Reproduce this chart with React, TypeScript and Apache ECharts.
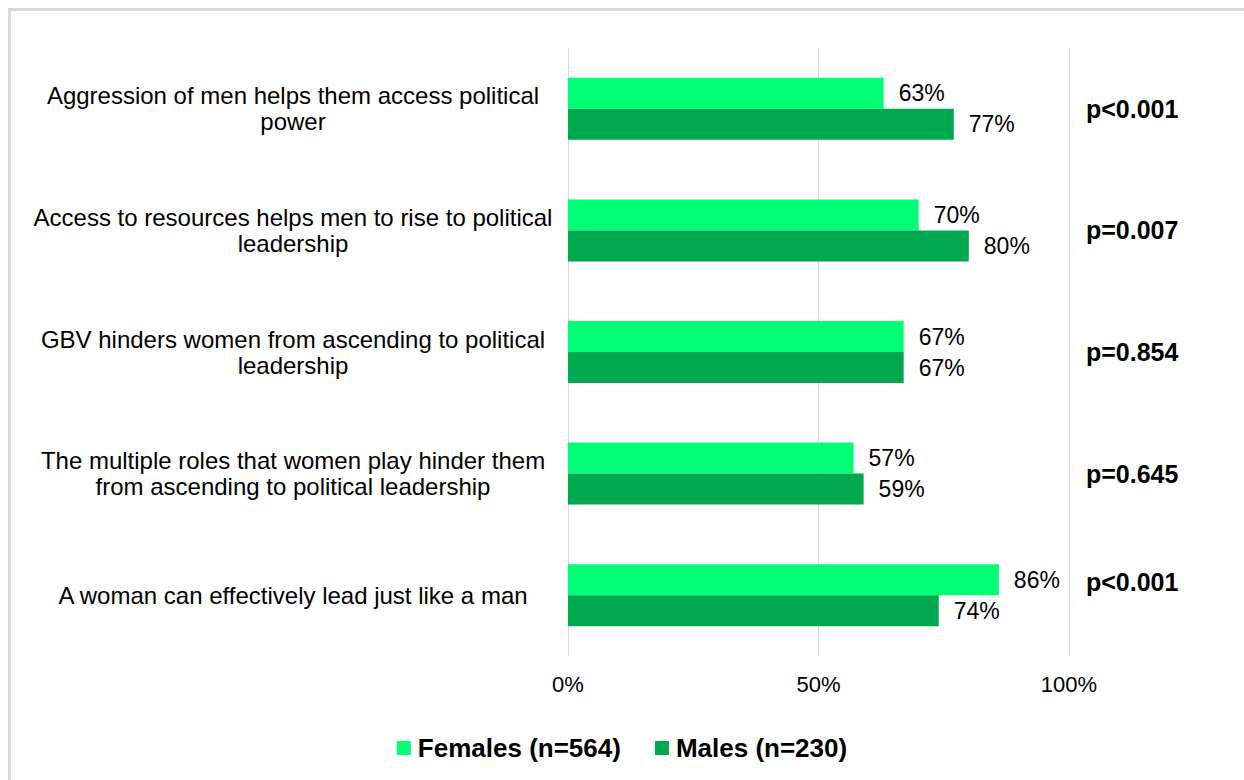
import React, { useEffect, useRef } from "react";
import * as echarts from "echarts";

const categories = [
  "Aggression of men helps them access political\npower",
  "Access to resources helps men to rise to political\nleadership",
  "GBV hinders women from ascending to political\nleadership",
  "The multiple roles that women play hinder them\nfrom ascending to political leadership",
  "A woman can effectively lead just like a man",
];
const females = [63, 70, 67, 57, 86];
const males = [77, 80, 67, 59, 74];
const pValues = ["p<0.001", "p=0.007", "p=0.854", "p=0.645", "p<0.001"];
const xTicks = [0, 50, 100];
const seriesNames = ["Females (n=564)", "Males (n=230)"];

const FONT = "'Liberation Sans', Arial, sans-serif";

export default function App() {
  const ref = useRef<HTMLDivElement>(null);
  useEffect(() => {
    document.body.style.margin = "0";
    document.documentElement.style.overflow = "hidden";
    const chart = echarts.init(ref.current!, null, { renderer: "svg" });
    const border = { stroke: "#d9d9d9", lineWidth: 3 };
    chart.setOption({
      animation: false,
      backgroundColor: "#fff",
      textStyle: { fontFamily: FONT },
      graphic: [
        {
          type: "line",
          shape: { x1: 8, y1: 9.5, x2: 1244, y2: 9.5 },
          style: border,
          silent: true,
        },
        {
          type: "line",
          shape: { x1: 9.5, y1: 8, x2: 9.5, y2: 780 },
          style: border,
          silent: true,
        },
      ],
      grid: { left: 568, right: 175, top: 48, bottom: 124, containLabel: false },
      legend: {
        data: seriesNames,
        bottom: 14,
        left: "center",
        icon: "rect",
        itemWidth: 14,
        itemHeight: 14,
        itemGap: 34,
        textStyle: {
          fontFamily: FONT,
          fontSize: 26,
          fontWeight: "bold",
          color: "#000",
          padding: [0, 0, 0, 2],
        },
      },
      xAxis: {
        type: "value",
        min: 0,
        max: 100,
        interval: 50,
        axisLine: { show: false },
        axisTick: { show: false },
        splitLine: { show: true, lineStyle: { color: "#d9d9d9", width: 1 } },
        axisLabel: {
          formatter: (v: number) => (xTicks.includes(v) ? v + "%" : ""),
          fontSize: 22,
          color: "#000",
          margin: 17,
          fontFamily: FONT,
        },
      },
      yAxis: [
        {
          type: "category",
          data: categories,
          inverse: true,
          axisLine: { show: false },
          axisTick: { show: false },
          axisLabel: {
            fontSize: 24,
            color: "#000",
            align: "center",
            margin: 275,
            lineHeight: 26,
            fontFamily: FONT,
          },
        },
        {
          type: "category",
          data: pValues,
          inverse: true,
          position: "right",
          axisLine: { show: false },
          axisTick: { show: false },
          axisLabel: {
            align: "left",
            margin: 17,
            formatter: (v: string, i: number) =>
              i === pValues.length - 1 ? "{up|" + v + "}" : "{n|" + v + "}",
            rich: {
              n: {
                fontSize: 25,
                fontWeight: "bold",
                color: "#000",
                fontFamily: FONT,
              },
              up: {
                fontSize: 25,
                fontWeight: "bold",
                color: "#000",
                fontFamily: FONT,
                padding: [0, 0, 26, 0],
              },
            },
          },
        },
      ],
      series: [
        {
          name: seriesNames[0],
          type: "bar",
          data: females,
          barWidth: 31,
          barGap: "0%",
          itemStyle: { color: "#00FF74" },
          label: {
            show: true,
            position: "right",
            distance: 15,
            formatter: "{c}%",
            fontSize: 23,
            color: "#000",
            fontFamily: FONT,
          },
        },
        {
          name: seriesNames[1],
          type: "bar",
          data: males,
          barWidth: 31,
          barGap: "0%",
          itemStyle: { color: "#00A850" },
          label: {
            show: true,
            position: "right",
            distance: 15,
            formatter: "{c}%",
            fontSize: 23,
            color: "#000",
            fontFamily: FONT,
          },
        },
      ],
    });
    return () => chart.dispose();
  }, []);
  return <div ref={ref} style={{ width: 1244, height: 780 }} />;
}
